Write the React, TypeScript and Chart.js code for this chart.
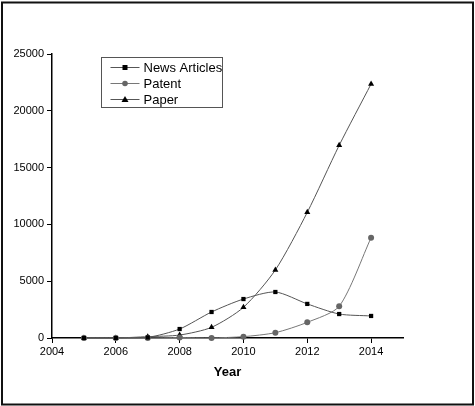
import React, { useEffect, useRef } from "react";
import { Chart, registerables } from "chart.js";

Chart.register(...registerables);

const years = [2005, 2006, 2007, 2008, 2009, 2010, 2011, 2012, 2013, 2014];
const newsArticles = [0, 0, 50, 790, 2290, 3430, 4050, 3000, 2110, 1940];
const patent = [0, 0, 0, 40, 10, 120, 470, 1380, 2790, 8830];
const paper = [0, 0, 120, 260, 940, 2700, 5990, 11060, 16960, 22360];
const xTicks = [2004, 2006, 2008, 2010, 2012, 2014];
const yTicks = [0, 5000, 10000, 15000, 20000, 25000];
const seriesNames = ["News Articles", "Patent", "Paper"];

const FONT = "'Liberation Sans', Arial, sans-serif";

function drawMarker(ctx: CanvasRenderingContext2D, style: string, x: number, y: number, color: string) {
  ctx.save();
  ctx.fillStyle = color;
  ctx.beginPath();
  if (style === "rect") {
    ctx.rect(x - 2.5, y - 2.5, 5, 5);
  } else if (style === "circle") {
    ctx.arc(x, y, 2.8, 0, Math.PI * 2);
  } else {
    ctx.moveTo(x, y - 3.5);
    ctx.lineTo(x + 3.5, y + 2.5);
    ctx.lineTo(x - 3.5, y + 2.5);
    ctx.closePath();
  }
  ctx.fill();
  ctx.restore();
}

const decorPlugin = {
  id: "decor",
  afterDraw(chart: any) {
    const ctx: CanvasRenderingContext2D = chart.ctx;
    const area = chart.chartArea;
    // legend
    const lx = 101.5, ly = 57.5, lw = 121, lh = 50;
    ctx.save();
    ctx.fillStyle = "#fff";
    ctx.fillRect(lx, ly, lw, lh);
    ctx.strokeStyle = "#555";
    ctx.lineWidth = 1;
    ctx.strokeRect(lx, ly, lw, lh);
    chart.data.datasets.forEach((ds: any, i: number) => {
      const cy = ly + 10 + i * 16;
      ctx.strokeStyle = ds.borderColor;
      ctx.lineWidth = 1;
      ctx.beginPath();
      ctx.moveTo(lx + 9, cy);
      ctx.lineTo(lx + 38, cy);
      ctx.stroke();
      drawMarker(ctx, ds.pointStyle === "rect" ? "rect" : ds.pointStyle, lx + 23.5, cy, ds.pointBackgroundColor);
      ctx.fillStyle = "#000";
      ctx.font = `13px ${FONT}`;
      ctx.textBaseline = "middle";
      ctx.textAlign = "left";
      ctx.fillText(ds.label, lx + 42, cy + 0.5);
    });
    // axis title
    ctx.fillStyle = "#000";
    ctx.font = `bold 13px ${FONT}`;
    ctx.textAlign = "center";
    ctx.textBaseline = "middle";
    ctx.fillText("Year", (area.left + area.right) / 2, area.bottom + 34);
    // frame
    ctx.strokeStyle = "#111";
    ctx.lineWidth = 2;
    ctx.strokeRect(2, 2.5, 471, 402);
    ctx.restore();
  },
};

export default function App() {
  const ref = useRef<HTMLCanvasElement>(null);
  useEffect(() => {
    if (!ref.current) return;
    const mk = (vals: number[]) => years.map((y, i) => ({ x: y, y: vals[i] }));
    const chart = new Chart(ref.current, {
      type: "line",
      data: {
        datasets: [
          {
            label: seriesNames[0],
            data: mk(newsArticles),
            borderColor: "#555",
            borderWidth: 1,
            pointStyle: "rect",
            pointRadius: 3,
            pointBackgroundColor: "#000",
            pointBorderColor: "#000",
            pointBorderWidth: 0,
            tension: 0.25,
            clip: false as any,
          },
          {
            label: seriesNames[1],
            data: mk(patent),
            borderColor: "#777",
            borderWidth: 1,
            pointStyle: "circle",
            pointRadius: 3,
            pointBackgroundColor: "#666",
            pointBorderColor: "#666",
            pointBorderWidth: 0,
            tension: 0.25,
            clip: false as any,
          },
          {
            label: seriesNames[2],
            data: mk(paper),
            borderColor: "#555",
            borderWidth: 1,
            pointStyle: "triangle",
            pointRadius: 3.5,
            pointBackgroundColor: "#000",
            pointBorderColor: "#000",
            pointBorderWidth: 0,
            tension: 0.25,
            clip: false as any,
          },
        ],
      },
      options: {
        animation: false,
        responsive: false,
        layout: { padding: { left: 0, top: 54, right: 72, bottom: 0 } },
        plugins: { legend: { display: false }, tooltip: { enabled: false } },
        scales: {
          x: {
            type: "linear",
            min: 2004,
            max: 2015,
            afterBuildTicks: (axis: any) => {
              axis.ticks = xTicks.map((v) => ({ value: v }));
            },
            afterFit: (axis: any) => {
              axis.height = 68;
            },
            ticks: {
              font: { family: FONT, size: 11 },
              color: "#000",
              padding: 2,
              maxRotation: 0,
              callback: (v: any) => String(v),
            },
            grid: { display: true, drawOnChartArea: false, drawTicks: true, tickLength: 5, color: "#000", lineWidth: 1 },
            border: { display: true, color: "#000", width: 1.5 },
          },
          y: {
            type: "linear",
            min: 0,
            max: 25000,
            afterBuildTicks: (axis: any) => {
              axis.ticks = yTicks.map((v) => ({ value: v }));
            },
            afterFit: (axis: any) => {
              axis.width = 52;
            },
            ticks: {
              font: { family: FONT, size: 11 },
              color: "#000",
              padding: 3,
              callback: (v: any) => String(v),
            },
            grid: { display: true, drawOnChartArea: false, drawTicks: true, tickLength: 5, color: "#000", lineWidth: 1 },
            border: { display: true, color: "#000", width: 1.5 },
          },
        },
      },
      plugins: [decorPlugin],
    });
    return () => chart.destroy();
  }, []);
  return (
    <div style={{ position: "fixed", left: 0, top: 0, width: 475, height: 406, background: "#fff" }}>
      <canvas ref={ref} width={475} height={406} style={{ display: "block" }} />
    </div>
  );
}
